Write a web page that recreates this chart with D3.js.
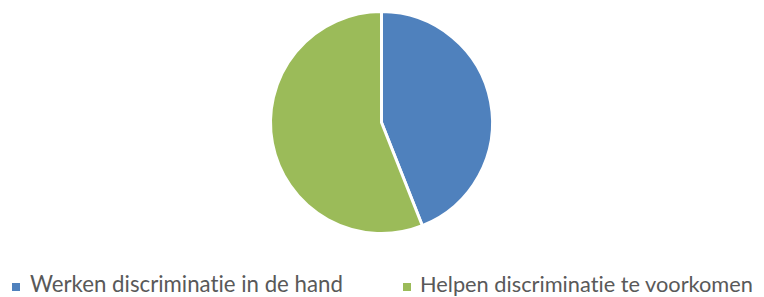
<!DOCTYPE html>
<html>
<head>
<meta charset="utf-8">
<script src="https://cdn.jsdelivr.net/npm/d3@7"></script>
<style>
  body { margin: 0; background: #fff; }
  svg { display: block; }
</style>
</head>
<body>
<div id="chart"></div>
<script>
// categories and values (share of answers)
var categories = ["Werken discriminatie in de hand", "Helpen discriminatie te voorkomen"];
var values = [44, 56];
var colors = ["#4F81BD", "#9BBB59"];

var width = 764, height = 297;
var svg = d3.select("#chart").append("svg")
    .attr("width", width)
    .attr("height", height);

// pie
var cx = 381.5, cy = 122.5, radius = 111;
var pie = d3.pie().sort(null).value(function(d){ return d; });
var arc = d3.arc().innerRadius(0).outerRadius(radius);

svg.append("g")
    .attr("transform", "translate(" + cx + "," + cy + ")")
    .selectAll("path")
    .data(pie(values))
    .enter()
    .append("path")
    .attr("d", arc)
    .attr("fill", function(d, i){ return colors[i]; })
    .attr("stroke", "#fff")
    .attr("stroke-width", 3)
    .attr("stroke-linejoin", "round");

// legend
var legendX = [12, 403];
var textWidths = [313, 333];
var legend = svg.append("g").selectAll("g")
    .data(categories)
    .enter()
    .append("g")
    .attr("transform", function(d, i){ return "translate(" + legendX[i] + ",0)"; });

legend.append("rect")
    .attr("x", 0)
    .attr("y", 283)
    .attr("width", 8)
    .attr("height", 8)
    .attr("fill", function(d, i){ return colors[i]; });

legend.append("text")
    .attr("x", function(d, i){ return i == 0 ? 18 : 17; })
    .attr("y", 292)
    .style("font-family", "Lato, sans-serif")
    .style("font-variant-ligatures", "none")
    .style("font-feature-settings", "'liga' 0")
    .style("font-size", "20px")
    .style("fill", "#595959")
    .text(function(d){ return d; })
    .each(function(d, i){
        // fit font size so the label is as wide as in the original
        var w = this.getComputedTextLength();
        var fs = 20 * textWidths[i] / w;
        d3.select(this).style("font-size", fs.toFixed(2) + "px");
    });
</script>
</body>
</html>
